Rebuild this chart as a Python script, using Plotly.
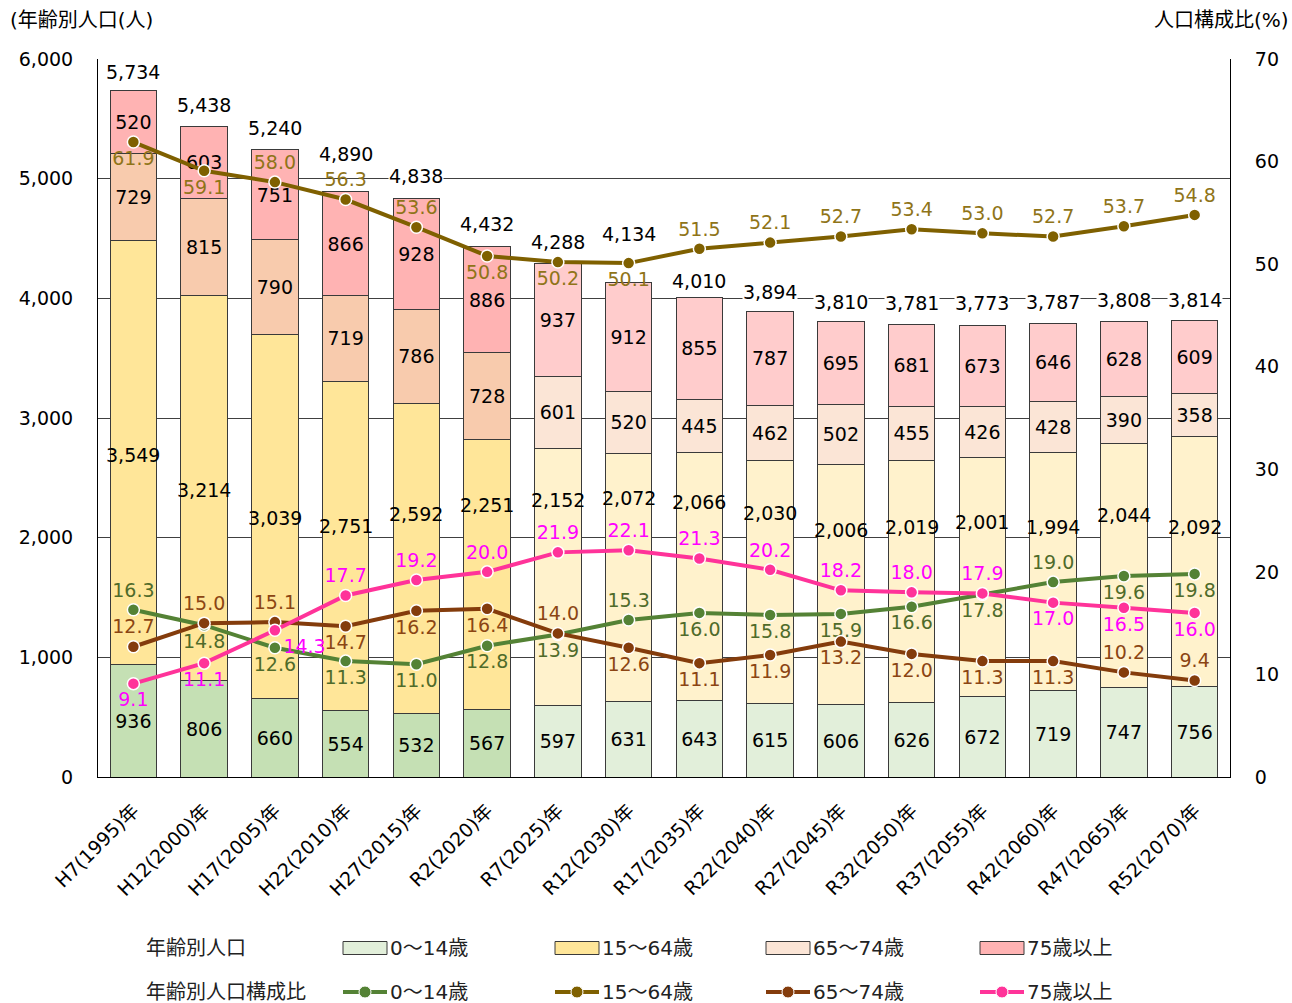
import plotly.graph_objects as go

categories = ["H7(1995)年", "H12(2000)年", "H17(2005)年", "H22(2010)年", "H27(2015)年",
              "R2(2020)年", "R7(2025)年", "R12(2030)年", "R17(2035)年", "R22(2040)年",
              "R27(2045)年", "R32(2050)年", "R37(2055)年", "R42(2060)年", "R47(2065)年",
              "R52(2070)年"]
pop_0_14 = [936, 806, 660, 554, 532, 567, 597, 631, 643, 615, 606, 626, 672, 719, 747, 756]
pop_15_64 = [3549, 3214, 3039, 2751, 2592, 2251, 2152, 2072, 2066, 2030, 2006, 2019, 2001, 1994, 2044, 2092]
pop_65_74 = [729, 815, 790, 719, 786, 728, 601, 520, 445, 462, 502, 455, 426, 428, 390, 358]
pop_75_over = [520, 603, 751, 866, 928, 886, 937, 912, 855, 787, 695, 681, 673, 646, 628, 609]
totals = [5734, 5438, 5240, 4890, 4838, 4432, 4288, 4134, 4010, 3894, 3810, 3781, 3773, 3787, 3808, 3814]

ratio_0_14 = [16.3, 14.8, 12.6, 11.3, 11.0, 12.8, 13.9, 15.3, 16.0, 15.8, 15.9, 16.6, 17.8, 19.0, 19.6, 19.8]
ratio_15_64 = [61.9, 59.1, 58.0, 56.3, 53.6, 50.8, 50.2, 50.1, 51.5, 52.1, 52.7, 53.4, 53.0, 52.7, 53.7, 54.8]
ratio_65_74 = [12.7, 15.0, 15.1, 14.7, 16.2, 16.4, 14.0, 12.6, 11.1, 11.9, 13.2, 12.0, 11.3, 11.3, 10.2, 9.4]
ratio_75_over = [9.1, 11.1, 14.3, 17.7, 19.2, 20.0, 21.9, 22.1, 21.3, 20.2, 18.2, 18.0, 17.9, 17.0, 16.5, 16.0]

n_actual = 6  # first six periods are census results, rest are projections

series_names = ["0～14歳", "15～64歳", "65～74歳", "75歳以上"]

# label anchor heights (data units) for the 15-64 segment labels
label_y_15_64 = [2691, 2398, 2164, 2097, 2198, 2273, 2315, 2331, 2298, 2206, 2064, 2089, 2131, 2089, 2189, 2089]
# pixel lift of the total labels above the bar tops
total_label_shift = [19, 21, 22, 38, 22, 23, 22, 48, 16, 19, 19, 22, 23, 22, 21, 21]

# text positions of ratio labels
pos_0_14 = ["top center", "bottom center", "bottom center", "bottom center", "bottom center",
            "bottom center", "bottom center", "top center", "bottom center", "bottom center",
            "bottom center", "bottom center", "bottom center", "top center", "bottom center",
            "bottom center"]
pos_15_64 = ["bottom center", "bottom center", "top center", "top center", "top center",
             "bottom center", "bottom center", "bottom center"] + ["top center"] * 8
pos_65_74 = ["top center", "top center", "top center", "bottom center", "bottom center",
             "bottom center", "top center", "bottom center", "bottom center", "bottom center",
             "bottom center", "bottom center", "bottom center", "bottom center", "top center",
             "top center"]
pos_75_over = ["bottom center", "bottom center", "bottom right"] + ["top center"] * 10 + ["bottom center"] * 3

FONT = "DejaVu Sans, Noto Sans CJK JP, sans-serif"
FS = 19
FS_T = 20

bar_actual = ["#c5e0b4", "#ffe699", "#f8cbad", "#ffb3b3"]
bar_proj = ["#e2efda", "#fff2cc", "#fbe5d6", "#ffcccc"]
legend_bar = ["#e2efda", "#ffe699", "#fbe5d6", "#ffb3b3"]
line_colors = ["#548235", "#7f6000", "#843c0c", "#ff3399"]
label_colors = ["#4f6b2a", "#8f7418", "#8b4513", "#ff00ff"]

fig = go.Figure()

pops = [pop_0_14, pop_15_64, pop_65_74, pop_75_over]
n = len(categories)
for i, vals in enumerate(pops):
    colors = [bar_actual[i] if k < n_actual else bar_proj[i] for k in range(n)]
    show_text = i != 1
    fig.add_trace(go.Bar(
        x=categories, y=vals, name=series_names[i],
        marker=dict(color=colors, line=dict(color="#3a3a3a", width=1)),
        text=[f"{v:,}" for v in vals] if show_text else None,
        textposition="inside" if show_text else "none",
        insidetextanchor="middle",
        textangle=0,
        constraintext="none",
        textfont=dict(family=FONT, size=FS, color="#000000"),
        showlegend=False,
    ))

ratios = [ratio_0_14, ratio_15_64, ratio_65_74, ratio_75_over]
positions = [pos_0_14, pos_15_64, pos_65_74, pos_75_over]
for i, vals in enumerate(ratios):
    fig.add_trace(go.Scatter(
        x=categories, y=vals, yaxis="y2", name=series_names[i],
        mode="lines+markers+text",
        line=dict(color=line_colors[i], width=4),
        marker=dict(color=line_colors[i], size=12, line=dict(color="white", width=1.5)),
        text=[f"{v:.1f}" for v in vals],
        textposition=positions[i],
        textfont=dict(family=FONT, size=FS, color=label_colors[i]),
        cliponaxis=False,
        showlegend=False,
    ))

annotations = []
# 15-64 segment labels
for c, v, ly in zip(categories, pop_15_64, label_y_15_64):
    annotations.append(dict(x=c, y=ly, xref="x", yref="y", text=f"{v:,}", showarrow=False,
                            font=dict(family=FONT, size=FS, color="#000000")))
# totals
for c, t, s in zip(categories, totals, total_label_shift):
    annotations.append(dict(x=c, y=t, xref="x", yref="y", text=f"{t:,}", showarrow=False,
                            yshift=s, bgcolor="white", borderpad=0,
                            font=dict(family=FONT, size=FS, color="#000000")))

# axis titles
annotations.append(dict(x=-0.0795, y=1.0545, xref="paper", yref="paper", text="(年齢別人口(人)",
                        showarrow=False, xanchor="left", yanchor="middle",
                        font=dict(family=FONT, size=FS_T, color="#000000")))
annotations.append(dict(x=1.054, y=1.0545, xref="paper", yref="paper", text="人口構成比(%)",
                        showarrow=False, xanchor="right", yanchor="middle",
                        font=dict(family=FONT, size=FS_T, color="#000000")))

# manual legend (pixel -> paper conversion)
L, R, T, B = 98, 1230, 59, 777
def px(xp):
    return (xp - L) / (R - L)
def py(yp):
    return (B - yp) / (B - T)

shapes = []
row1, row2 = 948, 992
annotations.append(dict(x=px(144), y=py(row1), xref="paper", yref="paper", text="年齢別人口",
                        showarrow=False, xanchor="left", yanchor="middle",
                        font=dict(family=FONT, size=FS_T, color="#222222")))
annotations.append(dict(x=px(144), y=py(row2), xref="paper", yref="paper", text="年齢別人口構成比",
                        showarrow=False, xanchor="left", yanchor="middle",
                        font=dict(family=FONT, size=FS_T, color="#222222")))
sw_x = [343, 555, 766, 980]
sw_w = 44
for i in range(4):
    x0 = sw_x[i]
    shapes.append(dict(type="rect", xref="paper", yref="paper",
                       x0=px(x0), x1=px(x0 + sw_w), y0=py(row1 + 6.5), y1=py(row1 - 6.5),
                       fillcolor=legend_bar[i], line=dict(color="#3a3a3a", width=1)))
    shapes.append(dict(type="line", xref="paper", yref="paper",
                       x0=px(x0), x1=px(x0 + sw_w), y0=py(row2), y1=py(row2),
                       line=dict(color=line_colors[i], width=4)))
    shapes.append(dict(type="circle", xref="paper", yref="paper",
                       x0=px(x0 + sw_w / 2 - 6), x1=px(x0 + sw_w / 2 + 6),
                       y0=py(row2 + 6), y1=py(row2 - 6),
                       fillcolor=line_colors[i], line=dict(color="white", width=1)))
    for row in (row1, row2):
        annotations.append(dict(x=px(x0 + sw_w + 1), y=py(row), xref="paper", yref="paper",
                                text=series_names[i], showarrow=False, xanchor="left",
                                yanchor="middle",
                                font=dict(family=FONT, size=FS_T, color="#222222")))

fig.update_layout(
    width=1292, height=1003,
    margin=dict(l=L, r=1292 - R, t=T, b=1003 - B, autoexpand=False),
    paper_bgcolor="white", plot_bgcolor="white",
    barmode="stack", bargap=0.34,
    font=dict(family=FONT, size=FS, color="#000000"),
    showlegend=False,
    xaxis=dict(type="category", range=[-0.5, len(categories) - 0.5], tickangle=-45,
               tickfont=dict(family=FONT, size=FS),
               showline=True, linecolor="#000000", linewidth=1, ticks="",
               showgrid=False, ticklabelstandoff=14),
    yaxis=dict(range=[0, 6000], dtick=1000, tickformat=",", showgrid=True,
               gridcolor="#404040", gridwidth=1, showline=True, linecolor="#000000",
               linewidth=1, ticks="", zeroline=False, ticklabelstandoff=20,
               tickfont=dict(family=FONT, size=FS)),
    yaxis2=dict(range=[0, 70], dtick=10, overlaying="y", side="right", showgrid=False,
                showline=True, linecolor="#000000", linewidth=1, ticks="", zeroline=False,
                ticklabelstandoff=20, tickfont=dict(family=FONT, size=FS)),
    annotations=annotations,
    shapes=shapes,
)

fig.write_html("out.html", config={"displayModeBar": False},
               post_script="document.body.style.margin='0';document.body.style.overflow='hidden';")
